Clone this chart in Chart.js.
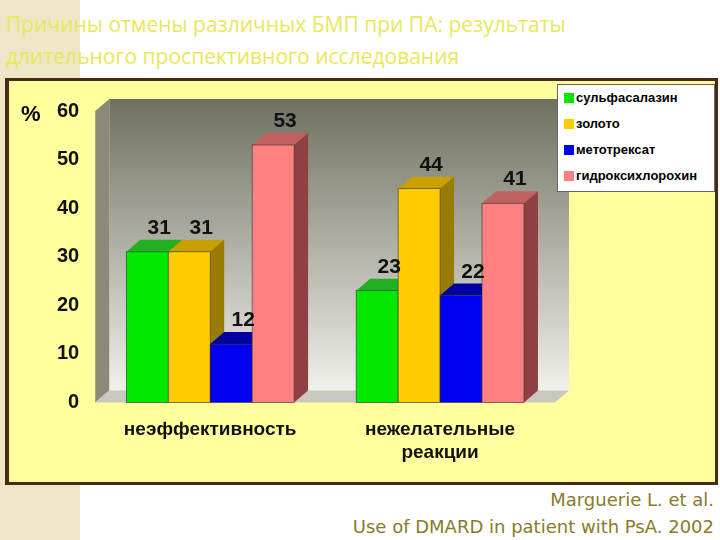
<!DOCTYPE html>
<html><head><meta charset="utf-8">
<script src="https://cdn.jsdelivr.net/npm/chart.js@4"></script>
<style>
body{margin:0;width:720px;height:540px;background:#fff;position:relative;overflow:hidden;font-family:"Liberation Sans",Arial,sans-serif}
#strip{position:absolute;left:0;top:0;width:80px;height:540px;background:#efe6c8}
#title{position:absolute;left:6px;top:8px;font-family:"Open Sans","DejaVu Sans",sans-serif;font-size:21px;line-height:32px;color:#e8e85a}
#box{position:absolute;left:5px;top:78px;width:706px;height:401px;border:3px solid #4a2a10;border-left-width:4px;background:#ffff9e}
#legend{position:absolute;left:548px;top:3px;width:156px;height:106px;border:1px solid #666;background:#fff;font-size:13px;font-weight:bold}
#legend div{height:26px;line-height:26px;padding-left:18px;position:relative}
#legend span{position:absolute;left:6px;top:8px;width:10px;height:10px}
#ref{position:absolute;right:6px;top:486px;text-align:right;font-family:"DejaVu Sans",sans-serif;font-size:18px;line-height:27px;color:#8a7a2a}
#pct{position:absolute;left:12px;top:20px;font-size:22px;font-weight:bold}
</style></head><body>
<div id="strip"></div>
<div id="title">Причины отмены различных БМП при ПА: результаты<br>длительного проспективного исследования</div>
<div id="box"><canvas id="c" width="706" height="401"></canvas><div id="pct">%</div><div id="legend"></div></div>
<div id="ref">Marguerie L. et al.<br>Use of DMARD in patient with PsA. 2002</div>
<script>
const categories = ["неэффективность", ["нежелательные", "реакции"]];
const seriesNames = ["сульфасалазин", "золото", "метотрексат", "гидроксихлорохин"];
const sulfasalazine = [31, 23];
const gold = [31, 44];
const methotrexate = [12, 22];
const hydroxychloroquine = [53, 41];
const yTicks = [0, 10, 20, 30, 40, 50, 60];

const fronts = ["#00e800", "#ffcc00", "#0000f0", "#ff8080"];
const tops = ["#22b022", "#c8a000", "#0000a0", "#c06060"];
const sides = ["#108810", "#9a7a00", "#000070", "#904040"];
const DX = 14, DY = -12;

const leg = document.getElementById("legend");
seriesNames.forEach((n, i) => {
  leg.innerHTML += `<div><span style="background:${fronts[i]}"></span>${n}</div>`;
});

const threeD = {
  id: "threeD",
  beforeDatasetsDraw(chart) {
    const { ctx, chartArea: a } = chart;
    ctx.save();
    // back wall
    const g = ctx.createLinearGradient(0, a.top + DY, 0, a.bottom + DY);
    g.addColorStop(0, "#707060"); g.addColorStop(1, "#f0f0ec");
    ctx.fillStyle = g;
    ctx.fillRect(a.left + DX, a.top + DY, a.right - a.left, a.bottom - a.top);
    // left wall
    ctx.fillStyle = "#8a8a78";
    ctx.beginPath();
    ctx.moveTo(a.left, a.top); ctx.lineTo(a.left + DX, a.top + DY);
    ctx.lineTo(a.left + DX, a.bottom + DY); ctx.lineTo(a.left, a.bottom); ctx.fill();
    // floor
    ctx.fillStyle = "#c8c8c0";
    ctx.beginPath();
    ctx.moveTo(a.left, a.bottom); ctx.lineTo(a.left + DX, a.bottom + DY);
    ctx.lineTo(a.right + DX, a.bottom + DY); ctx.lineTo(a.right, a.bottom); ctx.fill();
    ctx.restore();
  },
  afterDatasetsDraw(chart) {
    const { ctx } = chart;
    ctx.save();
    const n = chart.data.labels.length;
    for (let j = 0; j < n; j++) {
      chart.data.datasets.forEach((ds, i) => {
        const b = chart.getDatasetMeta(i).data[j];
        const l = b.x - b.width / 2, r = b.x + b.width / 2, t = b.y, bot = b.base;
        ctx.fillStyle = tops[i];
        ctx.beginPath();
        ctx.moveTo(l, t); ctx.lineTo(l + DX, t + DY); ctx.lineTo(r + DX, t + DY); ctx.lineTo(r, t); ctx.fill();
        ctx.fillStyle = sides[i];
        ctx.beginPath();
        ctx.moveTo(r, t); ctx.lineTo(r + DX, t + DY); ctx.lineTo(r + DX, bot + DY); ctx.lineTo(r, bot); ctx.fill();
        ctx.fillStyle = fronts[i];
        ctx.fillRect(l, t, b.width, bot - t);
        ctx.strokeStyle = "#333"; ctx.lineWidth = 0.6;
        ctx.strokeRect(l, t, b.width, bot - t);
      });
    }
    chart.data.datasets.forEach((ds, i) => {
      chart.getDatasetMeta(i).data.forEach((b, j) => {
        ctx.fillStyle = "#111";
        ctx.font = "bold 21px 'Liberation Sans', Arial";
        ctx.textAlign = "center";
        ctx.fillText(ds.data[j], b.x + 12, b.y - 18);
      });
    });
    ctx.restore();
  }
};

new Chart(document.getElementById("c"), {
  type: "bar",
  data: {
    labels: categories,
    datasets: [sulfasalazine, gold, methotrexate, hydroxychloroquine].map((d, i) => ({
      label: seriesNames[i], data: d, backgroundColor: "rgba(0,0,0,0)",
      categoryPercentage: 0.73, barPercentage: 1
    }))
  },
  options: {
    responsive: false, animation: false,
    layout: { padding: { top: 30, right: 160, left: 40, bottom: 10 } },
    plugins: { legend: { display: false }, tooltip: { enabled: false } },
    scales: {
      y: {
        min: 0, max: 60, afterBuildTicks: ax => { ax.ticks = yTicks.map(v => ({ value: v })); },
        grid: { display: false }, border: { display: false },
        ticks: { color: "#111", font: { size: 20, weight: "bold", family: "Liberation Sans" }, padding: 8 }
      },
      x: {
        grid: { display: false }, border: { display: false },
        ticks: { color: "#111", font: { size: 19, weight: "bold", family: "Liberation Sans" }, padding: 8 }
      }
    }
  },
  plugins: [threeD]
});
</script>
</body></html>
